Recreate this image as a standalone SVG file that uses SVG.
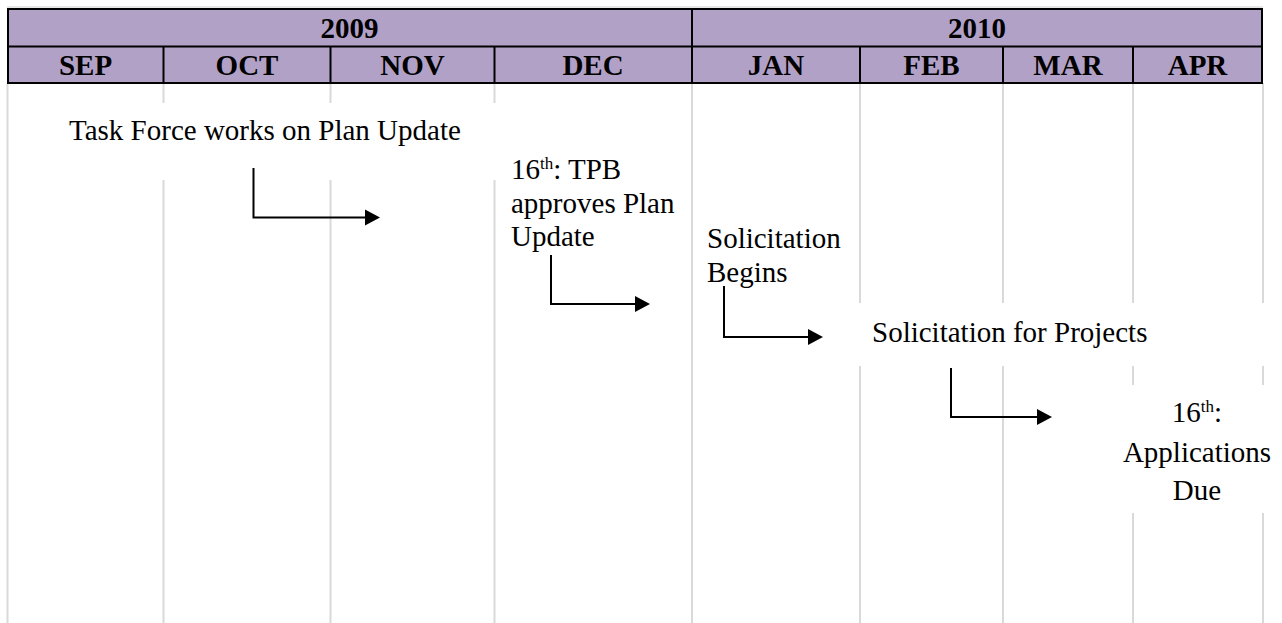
<svg xmlns="http://www.w3.org/2000/svg" width="1282" height="623" viewBox="0 0 1282 623">
  <style>
    .hdr { fill: #b2a1c7; stroke: #000; stroke-width: 2; }
    .hl { stroke: #000; stroke-width: 2; fill: none; }
    .grid line { stroke: #d9d9d9; stroke-width: 2; }
    text { font-family: "Liberation Serif", "Times New Roman", "DejaVu Serif", serif; fill: #000; }
    .ht { font-weight: bold; font-size: 29px; text-anchor: middle; }
    .t { font-weight: normal; font-size: 29px; }
    .sup { font-size: 17px; }
    .conn path { stroke: #000; stroke-width: 2; fill: none; }
    .conn polygon { fill: #000; }
  </style>
  <rect width="1282" height="623" fill="#fff"/>

  <g id="grid" class="grid">
    <line x1="7.5" y1="83" x2="7.5" y2="623"/>
    <line x1="163.5" y1="83" x2="163.5" y2="103"/>
    <line x1="163.5" y1="180" x2="163.5" y2="623"/>
    <line x1="330.5" y1="83" x2="330.5" y2="103"/>
    <line x1="330.5" y1="180" x2="330.5" y2="623"/>
    <line x1="494.5" y1="83" x2="494.5" y2="103"/>
    <line x1="494.5" y1="180" x2="494.5" y2="623"/>
    <line x1="692" y1="83" x2="692" y2="623"/>
    <line x1="860" y1="83" x2="860" y2="303"/>
    <line x1="860" y1="366" x2="860" y2="623"/>
    <line x1="1003" y1="83" x2="1003" y2="303"/>
    <line x1="1003" y1="366" x2="1003" y2="623"/>
    <line x1="1133" y1="83" x2="1133" y2="303"/>
    <line x1="1133" y1="366" x2="1133" y2="385"/>
    <line x1="1133" y1="513" x2="1133" y2="623"/>
    <line x1="1263" y1="83" x2="1263" y2="303"/>
    <line x1="1263" y1="366" x2="1263" y2="385"/>
    <line x1="1263" y1="513" x2="1263" y2="623"/>
  </g>

  <g id="header">
    <line x1="7" y1="7" x2="1263" y2="7" stroke="#d0d0d0" stroke-width="1"/>
    <rect class="hdr" x="8" y="9" width="1254" height="74"/>
    <line class="hl" x1="8" y1="46.5" x2="1262" y2="46.5"/>
    <line class="hl" x1="692" y1="9" x2="692" y2="83"/>
    <line class="hl" x1="163.5" y1="46.5" x2="163.5" y2="83"/>
    <line class="hl" x1="330.5" y1="46.5" x2="330.5" y2="83"/>
    <line class="hl" x1="494.5" y1="46.5" x2="494.5" y2="83"/>
    <line class="hl" x1="860" y1="46.5" x2="860" y2="83"/>
    <line class="hl" x1="1003" y1="46.5" x2="1003" y2="83"/>
    <line class="hl" x1="1133" y1="46.5" x2="1133" y2="83"/>
    <text class="ht" x="349.5" y="38">2009</text>
    <text class="ht" x="977" y="38">2010</text>
    <text class="ht" x="85.5" y="75">SEP</text>
    <text class="ht" x="247" y="75">OCT</text>
    <text class="ht" x="412.5" y="75">NOV</text>
    <text class="ht" x="593" y="75">DEC</text>
    <text class="ht" x="776" y="75">JAN</text>
    <text class="ht" x="931.5" y="75">FEB</text>
    <text class="ht" x="1068" y="75">MAR</text>
    <text class="ht" x="1197.5" y="75">APR</text>
  </g>

  <g id="task-force">
    <text class="t" x="69" y="140">Task Force works on Plan Update</text>
  </g>
  <g id="tpb-approves">
    <text class="t" x="511" y="179">16<tspan class="sup" dy="-10">th</tspan><tspan dy="10">: TPB</tspan></text>
    <text class="t" x="511" y="213">approves Plan</text>
    <text class="t" x="511" y="246">Update</text>
  </g>
  <g id="solicitation-begins">
    <text class="t" x="707" y="248">Solicitation</text>
    <text class="t" x="707" y="282">Begins</text>
  </g>
  <g id="solicitation-projects">
    <text class="t" x="872" y="342">Solicitation for Projects</text>
  </g>
  <g id="applications-due">
    <text class="t" x="1197" y="422" text-anchor="middle">16<tspan class="sup" dy="-10">th</tspan><tspan dy="10">:</tspan></text>
    <text class="t" x="1197" y="462" text-anchor="middle">Applications</text>
    <text class="t" x="1197" y="500" text-anchor="middle">Due</text>
  </g>

  <g id="connectors" class="conn">
    <path d="M253.5,168 V217.5 H366"/>
    <polygon points="365,209.5 380,217.5 365,225.5"/>
    <path d="M551,255 V304 H636"/>
    <polygon points="635,296 650,304 635,312"/>
    <path d="M724,286 V337 H809"/>
    <polygon points="808,329 823,337 808,345"/>
    <path d="M951,368 V417 H1038"/>
    <polygon points="1037,409 1052,417 1037,425"/>
  </g>
</svg>
